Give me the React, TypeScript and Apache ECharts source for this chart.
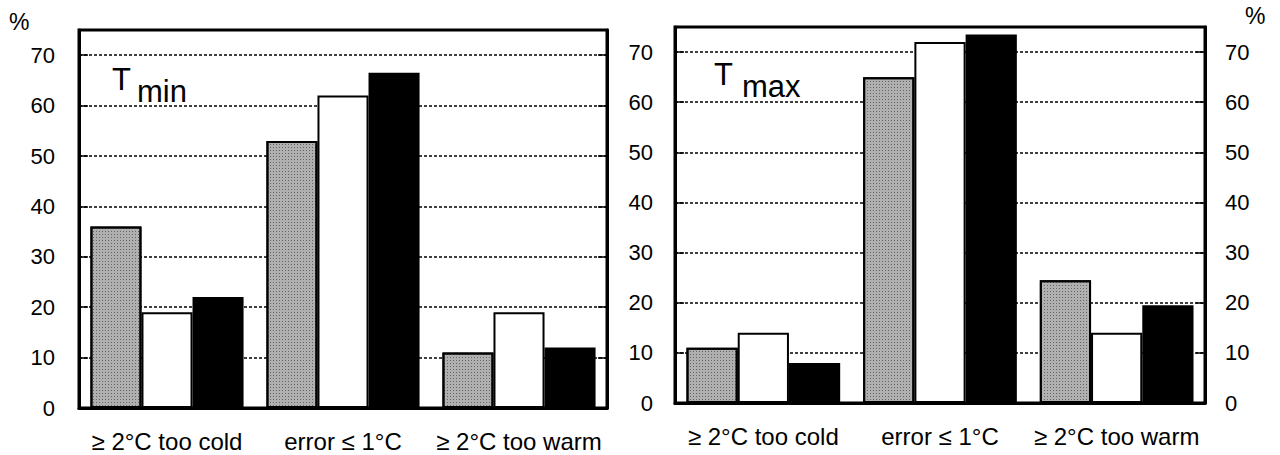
import React, { useEffect, useRef } from 'react';
import * as echarts from 'echarts';

const categories = ['≥ 2°C too cold', 'error ≤ 1°C', '≥ 2°C too warm'];
const tminGray = [36, 53, 11];
const tminWhite = [19, 62, 19];
const tminBlack = [22, 66.5, 12];
const tmaxGray = [11, 65, 24.5];
const tmaxWhite = [14, 72, 14];
const tmaxBlack = [8, 73.5, 19.5];
const yMin = 0;
const yMax = 75;
const yStep = 10;

const FONT = '"Liberation Sans", Arial, Helvetica, sans-serif';

export default function App() {
  const ref = useRef<HTMLDivElement>(null);
  useEffect(() => {
    if (!ref.current) return;
    const chart = echarts.init(ref.current, undefined, { renderer: 'svg' });

    const fmt = (v: number) => (v > 70 ? '' : String(v));
    const gridCommon = { show: true, borderColor: '#000', borderWidth: 3, backgroundColor: 'transparent' };
    const xAxisBase = (gridIndex: number) => ({
      type: 'category' as const,
      gridIndex,
      data: categories,
      axisLine: { show: true, lineStyle: { color: '#000', width: 3 } },
      axisTick: { show: false },
      axisLabel: { color: '#000', fontSize: 24, fontFamily: FONT, margin: 21, interval: 0 },
      splitLine: { show: false },
    });
    const yAxisBase = (gridIndex: number, position: 'left' | 'right', showLabel: boolean, margin: number) => ({
      type: 'value' as const,
      gridIndex,
      position,
      min: yMin,
      max: yMax,
      interval: yStep,
      axisLine: { show: true, lineStyle: { color: '#000', width: 3 } },
      axisTick: { show: true, inside: true, length: 9, lineStyle: { color: '#000', width: 1.5 } },
      axisLabel: { show: showLabel, color: '#000', fontSize: 22, fontFamily: FONT, margin, formatter: fmt },
      splitLine: position === 'left'
        ? { show: true, lineStyle: { color: '#000', width: 1.6, type: [3, 2] } }
        : { show: false },
    });

    const grayDecal = {
      symbol: 'rect',
      symbolSize: 1,
      dashArrayX: [1, 2],
      dashArrayY: [1, 2],
      rotation: 0,
      color: 'rgba(40,40,40,0.55)',
    };

    const barSeries = (data: number[], color: string, xi: number, yi: number, decal?: any) => ({
      type: 'bar' as const,
      data,
      xAxisIndex: xi,
      yAxisIndex: yi,
      barGap: '0%',
      barCategoryGap: '13%',
      itemStyle: decal
        ? { color, borderColor: '#000', borderWidth: 2, decal }
        : { color, borderColor: '#000', borderWidth: 2 },
    });

    chart.setOption({
      animation: false,
      grid: [
        { ...gridCommon, left: 79, top: 30, width: 528, height: 378 },
        { ...gridCommon, left: 675, top: 27, width: 530, height: 376 },
      ],
      xAxis: [xAxisBase(0), xAxisBase(1)],
      yAxis: [
        yAxisBase(0, 'left', true, 24),
        yAxisBase(0, 'right', false, 20),
        yAxisBase(1, 'left', true, 22),
        yAxisBase(1, 'right', true, 20),
      ],
      series: [
        barSeries(tminGray, '#b0b0b0', 0, 0, grayDecal),
        barSeries(tminWhite, '#ffffff', 0, 0),
        barSeries(tminBlack, '#000000', 0, 0),
        barSeries(tmaxGray, '#b0b0b0', 1, 2, grayDecal),
        barSeries(tmaxWhite, '#ffffff', 1, 2),
        barSeries(tmaxBlack, '#000000', 1, 2),
      ],
      graphic: [
        { type: 'text', x: 9, y: 22, style: { text: '%', fontSize: 23, fontFamily: FONT, fill: '#000', verticalAlign: 'middle' } },
        { type: 'text', x: 1245, y: 16, style: { text: '%', fontSize: 23, fontFamily: FONT, fill: '#000', verticalAlign: 'middle' } },
        { type: 'text', x: 112, y: 79, style: { text: 'T', fontSize: 31, fontFamily: FONT, fill: '#000', verticalAlign: 'middle' } },
        { type: 'text', x: 137, y: 91, style: { text: 'min', fontSize: 31, fontFamily: FONT, fill: '#000', verticalAlign: 'middle' } },
        { type: 'text', x: 714, y: 74, style: { text: 'T', fontSize: 31, fontFamily: FONT, fill: '#000', verticalAlign: 'middle' } },
        { type: 'text', x: 742, y: 86, style: { text: 'max', fontSize: 31, fontFamily: FONT, fill: '#000', verticalAlign: 'middle' } },
      ],
    });
    return () => chart.dispose();
  }, []);
  return <div ref={ref} style={{ position: 'fixed', left: 0, top: 0, width: 1280, height: 455, background: '#fff' }} />;
}
